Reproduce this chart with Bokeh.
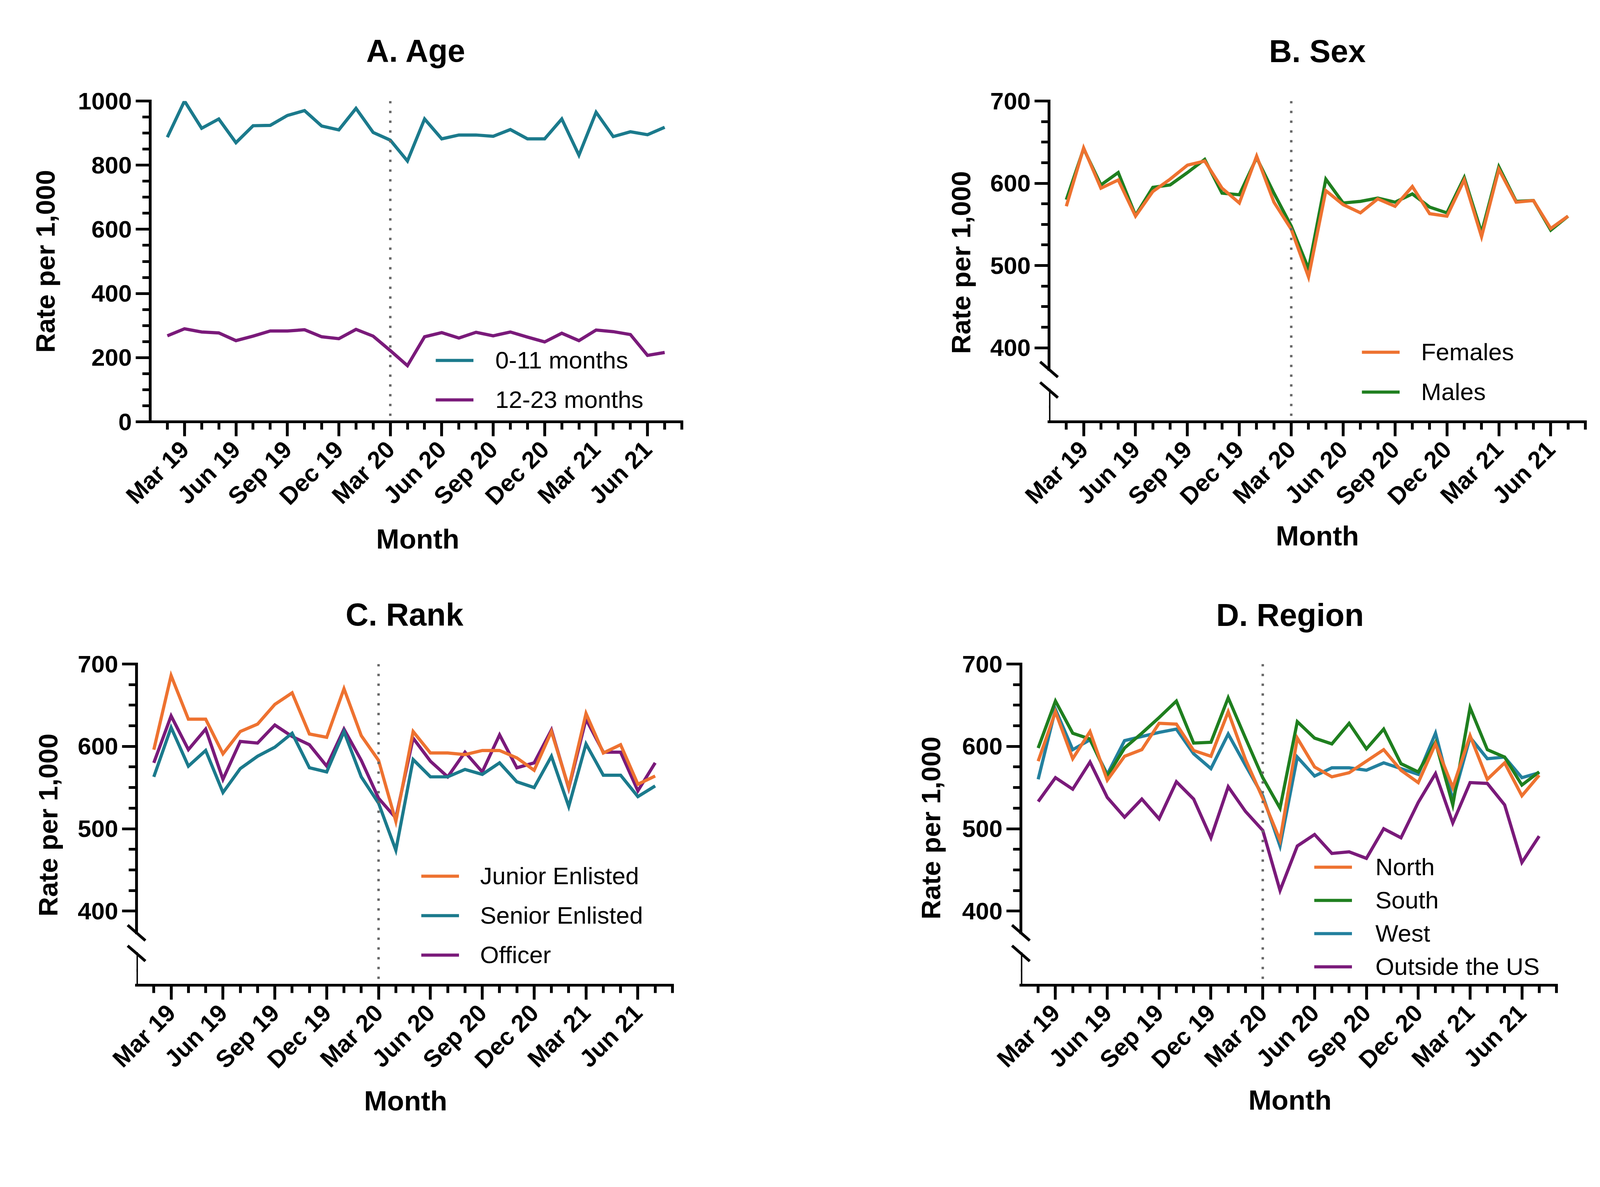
import math
from bokeh.plotting import figure
from bokeh.models import FixedTicker, LinearAxis, Span, Legend, LegendItem, Range1d
from bokeh.layouts import column, row
from bokeh.embed import file_html
from bokeh.resources import INLINE
from bokeh.core.properties import value

# ---------------- data ----------------
months = ["Feb 19", "Mar 19", "Apr 19", "May 19", "Jun 19", "Jul 19", "Aug 19", "Sep 19",
          "Oct 19", "Nov 19", "Dec 19", "Jan 20", "Feb 20", "Mar 20", "Apr 20", "May 20",
          "Jun 20", "Jul 20", "Aug 20", "Sep 20", "Oct 20", "Nov 20", "Dec 20", "Jan 21",
          "Feb 21", "Mar 21", "Apr 21", "May 21", "Jun 21", "Jul 21"]
major_month_names = ["Mar", "Jun", "Sep", "Dec"]
intervention_month = "Mar 20"

age_0_11 = [887, 1000, 915, 944, 870, 923, 924, 955, 970, 922, 910, 977, 902, 878, 813,
            944, 882, 894, 894, 890, 911, 882, 882, 944, 831, 965, 889, 904, 895, 918]
age_12_23 = [268, 290, 280, 277, 253, 267, 283, 283, 287, 265, 259, 288, 267, 222, 175,
             265, 278, 261, 279, 268, 280, 264, 249, 276, 253, 286, 281, 272, 207, 216]

females = [572, 643, 594, 604, 560, 590, 605, 622, 627, 594, 576, 633, 577, 544, 486,
           591, 574, 564, 581, 572, 596, 563, 560, 604, 535, 617, 577, 579, 545, 560]
males = [580, 642, 598, 613, 561, 595, 598, 613, 629, 588, 586, 631, 588, 548, 496,
         605, 576, 578, 582, 577, 587, 571, 564, 607, 540, 620, 578, 579, 543, 560]

junior_enlisted = [596, 686, 633, 633, 591, 618, 627, 651, 665, 615, 611, 670, 613, 583, 509,
                   618, 592, 592, 590, 595, 595, 586, 571, 618, 550, 640, 592, 602, 554, 564]
senior_enlisted = [563, 623, 576, 595, 544, 573, 588, 599, 616, 574, 569, 618, 563, 531, 474,
                   584, 563, 563, 572, 566, 580, 557, 550, 588, 527, 603, 565, 565, 539, 552]
officer = [580, 637, 596, 621, 560, 606, 604, 626, 612, 602, 576, 621, 583, 537, 513,
           610, 582, 563, 593, 569, 614, 574, 580, 620, 549, 633, 593, 593, 546, 580]

north = [582, 642, 585, 618, 559, 588, 596, 628, 627, 595, 588, 642, 584, 537, 486,
         610, 575, 563, 568, 582, 596, 571, 556, 603, 550, 613, 560, 580, 540, 565]
south = [598, 655, 616, 609, 564, 598, 616, 635, 655, 604, 605, 659, 610, 562, 525,
         630, 610, 603, 628, 597, 621, 579, 569, 605, 529, 647, 596, 587, 553, 569]
west = [560, 645, 596, 608, 566, 607, 612, 617, 621, 591, 573, 615, 577, 540, 479,
        587, 564, 574, 574, 571, 580, 573, 566, 616, 535, 611, 585, 587, 562, 568]
outside_us = [533, 562, 548, 581, 538, 514, 536, 512, 557, 536, 489, 551, 521, 498, 425,
              479, 493, 470, 472, 464, 500, 489, 532, 567, 507, 556, 555, 529, 459, 491]

age_y_major = [0, 200, 400, 600, 800, 1000]
rate_y_major = [400, 500, 600, 700]

# ---------------- style ----------------
TEAL = "#1b7a8c"
PURPLE = "#7a1a7a"
ORANGE = "#ee7230"
GREEN = "#1f7f1f"
WEST_BLUE = "#23809e"
DOT_GREY = "#666666"
FONT = "Liberation Sans"

K = 1 / 1.035            # page is photographed slightly enlarged; compensate


def s(v):
    return v * K


LINE_W = s(8.5)
AXIS_W = s(7.5)
MAJOR_OUT = round(s(38))
MINOR_OUT = round(s(21))
TICK_FONT = "%dpx" % round(s(64))
TITLE_FONT = "%dpx" % round(s(84))
YLABEL_FONT = "%dpx" % round(s(71))
XLABEL_FONT = "%dpx" % round(s(74))
LEGEND_FONT = "%dpx" % round(s(64))
TEXT_SHIFT = 22          # baseline correction for the text glyphs

x = list(range(len(months)))
X_START = -1
X_END = len(months)

# broken-axis helper positions (in the upper scale's units)
BREAK_ZERO = 310          # where the "0" of the lower stub sits
BREAK_MINOR = 328         # minor tick of the lower stub
BREAK_UPPER = 373.6       # lower end of the upper axis segment
BREAK_LOWER = 348.6       # upper end of the lower axis segment

FIG_W = 2120
FIG_H = 1511


def style_axis(ax, ticker, overrides=None, bounds=None):
    ax.ticker = ticker
    if overrides:
        ax.major_label_overrides = overrides
    if bounds is not None:
        ax.bounds = bounds
    ax.axis_line_width = AXIS_W
    ax.axis_line_color = "black"
    ax.axis_line_cap = "square"
    ax.major_tick_line_width = AXIS_W
    ax.minor_tick_line_width = AXIS_W
    ax.major_tick_line_color = "black"
    ax.minor_tick_line_color = "black"
    ax.major_tick_out = MAJOR_OUT
    ax.major_tick_in = 0
    ax.minor_tick_out = MINOR_OUT
    ax.minor_tick_in = 0
    ax.major_label_text_font = FONT
    ax.major_label_text_font_style = "bold"
    ax.major_label_text_font_size = TICK_FONT
    ax.major_label_text_color = "black"


def make_panel(title, series, geom, broken, labels, legend_cfg):
    left, fw, right, top, fh, bottom = geom
    W = round(s(FIG_W))
    H = round(s(FIG_H))
    left_c = round(s(left))
    fw_c = round(s(fw))
    right_c = W - left_c - fw_c
    top_c = round(s(top))
    fh_c = round(s(fh))
    bottom_c = H - top_c - fh_c
    if broken:
        y0, y1 = BREAK_ZERO, rate_y_major[-1]
    else:
        y0, y1 = age_y_major[0], age_y_major[-1]
    p = figure(width=W, height=H, output_backend="svg", toolbar_location=None,
               x_range=Range1d(X_START, X_END), y_range=Range1d(y0, y1),
               min_border_left=left_c, min_border_right=right_c,
               min_border_top=top_c, min_border_bottom=bottom_c)
    p.outline_line_color = None
    p.background_fill_color = "white"
    p.border_fill_color = "white"
    p.xgrid.visible = False
    p.ygrid.visible = False

    ppx = fw_c / (X_END - X_START)
    ppy = fh_c / (y1 - y0)

    def dx(px):
        return X_START + s(px) / ppx

    def dy(px):
        return y0 + s(px) / ppy

    # x axis: a tick for every month, labels every quarter
    major_idx = [i for i, m in enumerate(months) if m.split()[0] in major_month_names]
    xt = FixedTicker(ticks=major_idx, minor_ticks=list(range(0, X_END + 1)))
    xa = p.xaxis[0]
    style_axis(xa, xt, overrides={i: months[i] for i in major_idx})
    xa.major_label_orientation = math.pi / 4
    xa.major_label_standoff = round(s(24))

    # y axis
    ya = p.yaxis[0]
    if broken:
        yt = FixedTicker(ticks=rate_y_major,
                         minor_ticks=list(range(rate_y_major[0], rate_y_major[-1] + 1, 25)))
        style_axis(ya, yt, bounds=(BREAK_UPPER, rate_y_major[-1]))
        stub = LinearAxis(fixed_location=X_START,
                          ticker=FixedTicker(ticks=[BREAK_ZERO], minor_ticks=[BREAK_MINOR]))
        style_axis(stub, stub.ticker, overrides={BREAK_ZERO: "0"},
                   bounds=(BREAK_ZERO, BREAK_LOWER))
        stub.major_label_standoff = round(s(10))
        p.add_layout(stub, "left")
        # break marks
        hx = s(23.5) / ppx
        hy = s(20.5) / ppy
        for yb in (BREAK_UPPER, BREAK_LOWER):
            p.segment(x0=[X_START - hx], y0=[yb + hy], x1=[X_START + hx], y1=[yb - hy],
                      line_color="black", line_width=AXIS_W, level="overlay")
    else:
        yt = FixedTicker(ticks=age_y_major,
                         minor_ticks=list(range(age_y_major[0], age_y_major[-1] + 1, 50)))
        style_axis(ya, yt)
    ya.major_label_standoff = round(s(10))

    # intervention line
    p.add_layout(Span(location=months.index(intervention_month), dimension="height",
                      line_color=DOT_GREY, line_width=s(6.5), line_dash="6 19"))

    # series
    renderers = {}
    for name, vals, color in reversed(series):
        renderers[name] = p.line(x, vals, line_width=LINE_W, line_color=color,
                                 line_join="miter")
    items = [LegendItem(label=name, renderers=[renderers[name]]) for name, _, _ in series]
    lx, ly, spacing, standoff = legend_cfg
    leg = Legend(items=items, location=(round(s(lx)), round(s(ly))), orientation="vertical",
                 glyph_width=round(s(100)), glyph_height=round(s(70)),
                 label_height=round(s(70)),
                 label_standoff=round(s(standoff)), spacing=round(s(spacing)),
                 padding=0, margin=0,
                 border_line_alpha=0, background_fill_alpha=0,
                 label_text_font=FONT, label_text_font_size=LEGEND_FONT,
                 label_text_color="black")
    p.add_layout(leg)

    (tx, ty), (yx, yy), (mx, my) = labels
    common = dict(text_font=value(FONT), text_font_style="bold", text_color="black",
                  text_align="center", text_baseline="alphabetic", level="overlay")
    p.text(x=[dx(tx)], y=[dy(ty + TEXT_SHIFT)], text=[title],
           text_font_size=value(TITLE_FONT), **common)
    p.text(x=[dx(yx - TEXT_SHIFT)], y=[dy(yy)], text=["Rate per 1,000"], angle=math.pi / 2,
           text_font_size=value(YLABEL_FONT), **common)
    p.text(x=[dx(mx)], y=[dy(my + TEXT_SHIFT)], text=["Month"],
           text_font_size=value(XLABEL_FONT), **common)
    return p


pa = make_panel("A. Age",
                [("0-11 months", age_0_11, TEAL), ("12-23 months", age_12_23, PURPLE)],
                (397, 1409, 314, 267, 850, 394), False,
                ((705, 961), (-255, 425), (709, -333)),
                (757, 22, 31, 58))
pb = make_panel("B. Sex",
                [("Females", females, ORANGE), ("Males", males, GREEN)],
                (659, 1421, 40, 267, 858, 386), True,
                ((711, 969), (-211, 426), (711, -327)),
                (829, 42, 32, 57))
pc = make_panel("C. Rank",
                [("Junior Enlisted", junior_enlisted, ORANGE),
                 ("Senior Enlisted", senior_enlisted, TEAL),
                 ("Officer", officer, PURPLE)],
                (361, 1420, 339, 247, 856, 408), True,
                ((710, 966), (-212, 427), (713, -330)),
                (755, 43, 31, 56))
pd = make_panel("D. Region",
                [("North", north, ORANGE), ("South", south, GREEN),
                 ("West", west, WEST_BLUE), ("Outside the US", outside_us, PURPLE)],
                (585, 1419, 116, 246, 852, 413), True,
                ((713, 960), (-216, 417), (713, -327)),
                (777, 12, 15, 62))

layout = column(row(pa, pb), row(pc, pd))
open("out.html", "w").write(file_html(layout, INLINE))
